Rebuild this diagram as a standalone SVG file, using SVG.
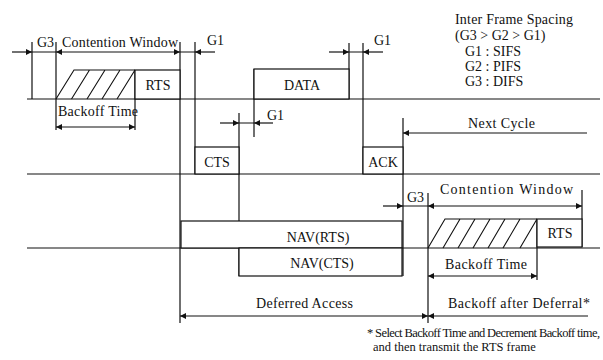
<svg xmlns="http://www.w3.org/2000/svg" width="603" height="360" viewBox="0 0 603 360">
<style>
  .ln{stroke:#111;stroke-width:1.2;fill:none}
  .box{stroke:#111;stroke-width:1.2;fill:#fff}
  .ht{stroke:#111;stroke-width:1.1;fill:none}
  text{font-family:"Liberation Serif","Times New Roman",serif;font-size:14px;fill:#111}
  .c{text-anchor:middle}
  .fn{font-size:12.5px}
</style>
<defs>
  <marker id="ah" viewBox="0 0 10 10" refX="10" refY="5" markerUnits="userSpaceOnUse" markerWidth="10" markerHeight="6" orient="auto-start-reverse">
    <path d="M0,0 L10,5 L0,10 z" fill="#111"/>
  </marker>
</defs>
<rect width="603" height="360" fill="#fff"/>

<g id="connectors">
  <!-- channel baselines -->
  <path class="ln" d="M27,99 H600 M27,174 H600 M27,248 H600"/>
  <!-- vertical timing marks -->
  <path class="ln" d="M32,42 V99 M56,42 V130 M135,70 V130 M180,42 V323 M195,42 V174 M239,113 V276 M254,69 V137 M349,43 V99 M363,43 V174 M403,118 V276 M428,193 V323 M537,219 V280 M582,190 V247"/>
  <!-- plain gap segments -->
  <path class="ln" d="M32,52 H56 M180,52 H195 M349,52 H363 M239,123 H254 M403,206 H428"/>
  <!-- arrows -->
  <path class="ln" marker-end="url(#ah)" d="M12,52 H32"/>
  <path class="ln" marker-start="url(#ah)" marker-end="url(#ah)" d="M56,52 H180"/>
  <path class="ln" marker-end="url(#ah)" d="M215,52 H195"/>
  <path class="ln" marker-end="url(#ah)" d="M329,52 H349"/>
  <path class="ln" marker-end="url(#ah)" d="M383,52 H363"/>
  <path class="ln" marker-end="url(#ah)" d="M220,123 H239"/>
  <path class="ln" marker-end="url(#ah)" d="M273,123 H254"/>
  <path class="ln" marker-start="url(#ah)" marker-end="url(#ah)" d="M56,127 H135"/>
  <path class="ln" marker-end="url(#ah)" d="M587,133 H403"/>
  <path class="ln" marker-end="url(#ah)" d="M383,206 H403"/>
  <path class="ln" marker-start="url(#ah)" marker-end="url(#ah)" d="M428,206 H582"/>
  <path class="ln" marker-start="url(#ah)" marker-end="url(#ah)" d="M428,276 H537"/>
  <path class="ln" marker-start="url(#ah)" marker-end="url(#ah)" d="M180,316 H428"/>
  <path class="ln" marker-end="url(#ah)" d="M588,316 H428"/>
</g>

<g id="backoff1">
  <path class="ht" d="M56,99 L74,70 H135 M71.5,99 L89.5,70 M87,99 L105,70 M102,99 L120,70 M117,99 L135,70"/>
  <text x="58" y="116" textLength="80" lengthAdjust="spacing">Backoff Time</text>
</g>
<g id="rts1">
  <rect class="box" x="135" y="70" width="45" height="29"/>
  <text class="c" x="158" y="90">RTS</text>
</g>
<g id="data">
  <rect class="box" x="254" y="69" width="95" height="30"/>
  <text class="c" x="302" y="90">DATA</text>
</g>
<g id="cts">
  <rect class="box" x="195" y="147" width="44" height="27"/>
  <text class="c" x="217" y="167">CTS</text>
</g>
<g id="ack">
  <rect class="box" x="363" y="147" width="40" height="27"/>
  <text class="c" x="383" y="167">ACK</text>
</g>
<g id="nav-rts">
  <rect class="box" x="181" y="221" width="221" height="27"/>
  <text class="c" x="318" y="242">NAV(RTS)</text>
</g>
<g id="nav-cts">
  <rect class="box" x="239" y="248" width="163" height="28"/>
  <text class="c" x="322" y="268">NAV(CTS)</text>
</g>
<g id="backoff2">
  <path class="ht" d="M428,248 L445,219 H537 M443,248 L460,219 M458,248 L475,219 M473,248 L490,219 M488,248 L505,219 M503,248 L520,219 M520,248 L537,219"/>
  <text x="445" y="269" textLength="82" lengthAdjust="spacing">Backoff Time</text>
</g>
<g id="rts2">
  <rect class="box" x="537" y="219" width="45" height="28"/>
  <text class="c" x="560" y="238">RTS</text>
</g>

<g id="labels">
  <text x="37" y="47">G3</text>
  <text x="62" y="47" textLength="116" lengthAdjust="spacing">Contention Window</text>
  <text x="207" y="45">G1</text>
  <text x="374" y="45">G1</text>
  <text x="267" y="120">G1</text>
  <text x="468" y="128" textLength="67" lengthAdjust="spacing">Next Cycle</text>
  <text x="407" y="202">G3</text>
  <text x="440" y="194" textLength="133" lengthAdjust="spacing">Contention Window</text>
  <text x="256" y="308" textLength="97" lengthAdjust="spacing">Deferred Access</text>
  <text x="448" y="308" textLength="142" lengthAdjust="spacing">Backoff after Deferral*</text>
</g>

<g id="legend">
  <text x="455" y="24" textLength="118" lengthAdjust="spacing">Inter Frame Spacing</text>
  <text x="455" y="40">(G3 &gt; G2 &gt; G1)</text>
  <text x="465" y="56">G1 : SIFS</text>
  <text x="465" y="71">G2 : PIFS</text>
  <text x="465" y="86">G3 : DIFS</text>
</g>

<g id="footnote">
  <text class="fn" x="367" y="337" textLength="233" lengthAdjust="spacing">* Select Backoff Time and Decrement Backoff time,</text>
  <text class="fn" x="373" y="351">and then transmit the RTS frame</text>
</g>
</svg>
